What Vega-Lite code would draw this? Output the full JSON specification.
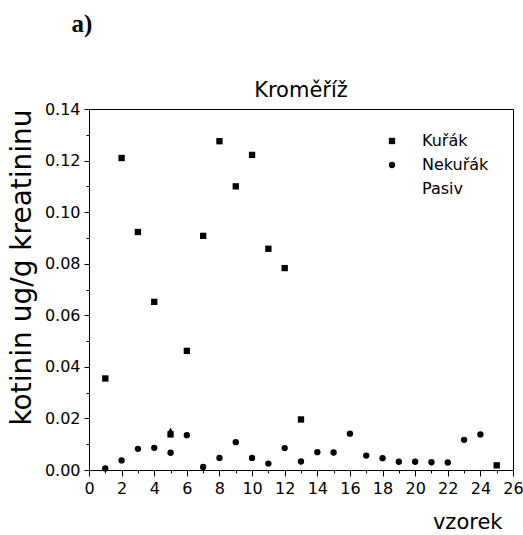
{
  "$schema": "https://vega.github.io/schema/vega-lite/v6.json",
  "background": "white",
  "padding": {"left": 7, "top": 11, "right": 5, "bottom": 0},
  "title": {"text": "a)", "anchor": "start", "frame": "bounds", "font": "Liberation Serif", "fontWeight": "bold", "fontSize": 25, "color": "black", "dx": 64, "offset": 43},
  "config": {
    "view": {"stroke": "black", "strokeWidth": 1},
    "axis": {"domainColor": "black", "tickColor": "black", "labelColor": "black", "titleColor": "black", "labelFont": "DejaVu Sans", "titleFont": "DejaVu Sans", "grid": false, "titleFontWeight": "normal"},
    "legend": {"labelFont": "DejaVu Sans", "labelColor": "black"}
  },
  "vconcat": [
    {
      "width": 424,
      "height": 361,
      "title": {"text": "Kroměříž", "font": "DejaVu Sans", "fontSize": 21, "fontWeight": "normal", "color": "black", "offset": 0},
      "data": {"values": [
        {"vzorek": 1, "skupina": "Kuřák", "kotinin": 0.0355},
        {"vzorek": 2, "skupina": "Kuřák", "kotinin": 0.1210},
        {"vzorek": 3, "skupina": "Kuřák", "kotinin": 0.0923},
        {"vzorek": 4, "skupina": "Kuřák", "kotinin": 0.0652},
        {"vzorek": 5, "skupina": "Kuřák", "kotinin": 0.0138},
        {"vzorek": 6, "skupina": "Kuřák", "kotinin": 0.0462},
        {"vzorek": 7, "skupina": "Kuřák", "kotinin": 0.0908},
        {"vzorek": 8, "skupina": "Kuřák", "kotinin": 0.1275},
        {"vzorek": 9, "skupina": "Kuřák", "kotinin": 0.1100},
        {"vzorek": 10, "skupina": "Kuřák", "kotinin": 0.1222},
        {"vzorek": 11, "skupina": "Kuřák", "kotinin": 0.0858},
        {"vzorek": 12, "skupina": "Kuřák", "kotinin": 0.0783},
        {"vzorek": 13, "skupina": "Kuřák", "kotinin": 0.0196},
        {"vzorek": 25, "skupina": "Kuřák", "kotinin": 0.0018},
        {"vzorek": 1, "skupina": "Nekuřák", "kotinin": 0.0006},
        {"vzorek": 2, "skupina": "Nekuřák", "kotinin": 0.0037},
        {"vzorek": 3, "skupina": "Nekuřák", "kotinin": 0.0082},
        {"vzorek": 4, "skupina": "Nekuřák", "kotinin": 0.0086},
        {"vzorek": 5, "skupina": "Nekuřák", "kotinin": 0.0067},
        {"vzorek": 6, "skupina": "Nekuřák", "kotinin": 0.0135},
        {"vzorek": 7, "skupina": "Nekuřák", "kotinin": 0.0012},
        {"vzorek": 8, "skupina": "Nekuřák", "kotinin": 0.0047},
        {"vzorek": 9, "skupina": "Nekuřák", "kotinin": 0.0108},
        {"vzorek": 10, "skupina": "Nekuřák", "kotinin": 0.0047},
        {"vzorek": 11, "skupina": "Nekuřák", "kotinin": 0.0025},
        {"vzorek": 12, "skupina": "Nekuřák", "kotinin": 0.0085},
        {"vzorek": 13, "skupina": "Nekuřák", "kotinin": 0.0033},
        {"vzorek": 14, "skupina": "Nekuřák", "kotinin": 0.0069},
        {"vzorek": 15, "skupina": "Nekuřák", "kotinin": 0.0068},
        {"vzorek": 16, "skupina": "Nekuřák", "kotinin": 0.0141},
        {"vzorek": 17, "skupina": "Nekuřák", "kotinin": 0.0056},
        {"vzorek": 18, "skupina": "Nekuřák", "kotinin": 0.0046},
        {"vzorek": 19, "skupina": "Nekuřák", "kotinin": 0.0032},
        {"vzorek": 20, "skupina": "Nekuřák", "kotinin": 0.0032},
        {"vzorek": 21, "skupina": "Nekuřák", "kotinin": 0.0030},
        {"vzorek": 22, "skupina": "Nekuřák", "kotinin": 0.0029},
        {"vzorek": 23, "skupina": "Nekuřák", "kotinin": 0.0117},
        {"vzorek": 24, "skupina": "Nekuřák", "kotinin": 0.0138},
        {"vzorek": 5, "skupina": "Pasiv", "kotinin": 0.0155},
        {"vzorek": 7, "skupina": "Pasiv", "kotinin": 0.0014}
      ]},
      "encoding": {
        "x": {
          "field": "vzorek", "type": "quantitative",
          "scale": {"domain": [0, 26], "nice": false, "zero": false},
          "axis": {
            "title": "vzorek", "titleFontSize": 21, "titleX": 413, "titleY": 58, "titleAlign": "right", "titleBaseline": "alphabetic", "titleAnchor": null,
            "values": [0,1,2,3,4,5,6,7,8,9,10,11,12,13,14,15,16,17,18,19,20,21,22,23,24,25,26],
            "labelExpr": "datum.value % 2 === 0 ? datum.label : ''",
            "labelFontSize": 16, "labelPadding": 4, "labelFlush": false, "labelOverlap": false,
            "tickSize": {"condition": {"test": "datum.value % 2 === 0", "value": 6}, "value": 3}
          }
        },
        "y": {
          "field": "kotinin", "type": "quantitative",
          "scale": {"domain": [0, 0.14], "nice": false},
          "axis": {
            "title": "kotinin ug/g kreatininu", "titleFontSize": 28, "titleX": -59, "titleY": 158, "titleAlign": "center", "titleBaseline": "alphabetic", "titleAngle": -90,
            "values": [0,0.01,0.02,0.03,0.04,0.05,0.06,0.07,0.08,0.09,0.1,0.11,0.12,0.13,0.14],
            "labelExpr": "round(datum.value*100) % 2 === 0 ? format(datum.value, '.2f') : ''",
            "labelFontSize": 16, "labelPadding": 4, "labelFlush": false, "labelOverlap": false,
            "tickSize": {"condition": {"test": "round(datum.value*100) % 2 === 0", "value": 5}, "value": 3}
          }
        }
      },
      "layer": [
        {
          "mark": {"type": "point", "filled": true, "color": "black", "opacity": 1, "size": 40},
          "encoding": {
            "shape": {
              "field": "skupina", "type": "nominal",
              "scale": {"domain": ["Kuřák", "Nekuřák", "Pasiv"], "range": ["square", "circle", "M0,0Z"]},
              "legend": {
                "title": null, "orient": "top-right", "offset": 19, "padding": 5,
                "labelFontSize": 16, "symbolSize": 40,
                "labelOffset": 22, "rowPadding": 8
              }
            }
          }
        },
        {
          "transform": [{"filter": "datum.skupina === 'Pasiv'"}],
          "mark": {"type": "point", "filled": true, "color": "black", "opacity": 1, "size": 28, "shape": "triangle-up"},
          "encoding": {}
        }
      ]
    }
  ]
}
